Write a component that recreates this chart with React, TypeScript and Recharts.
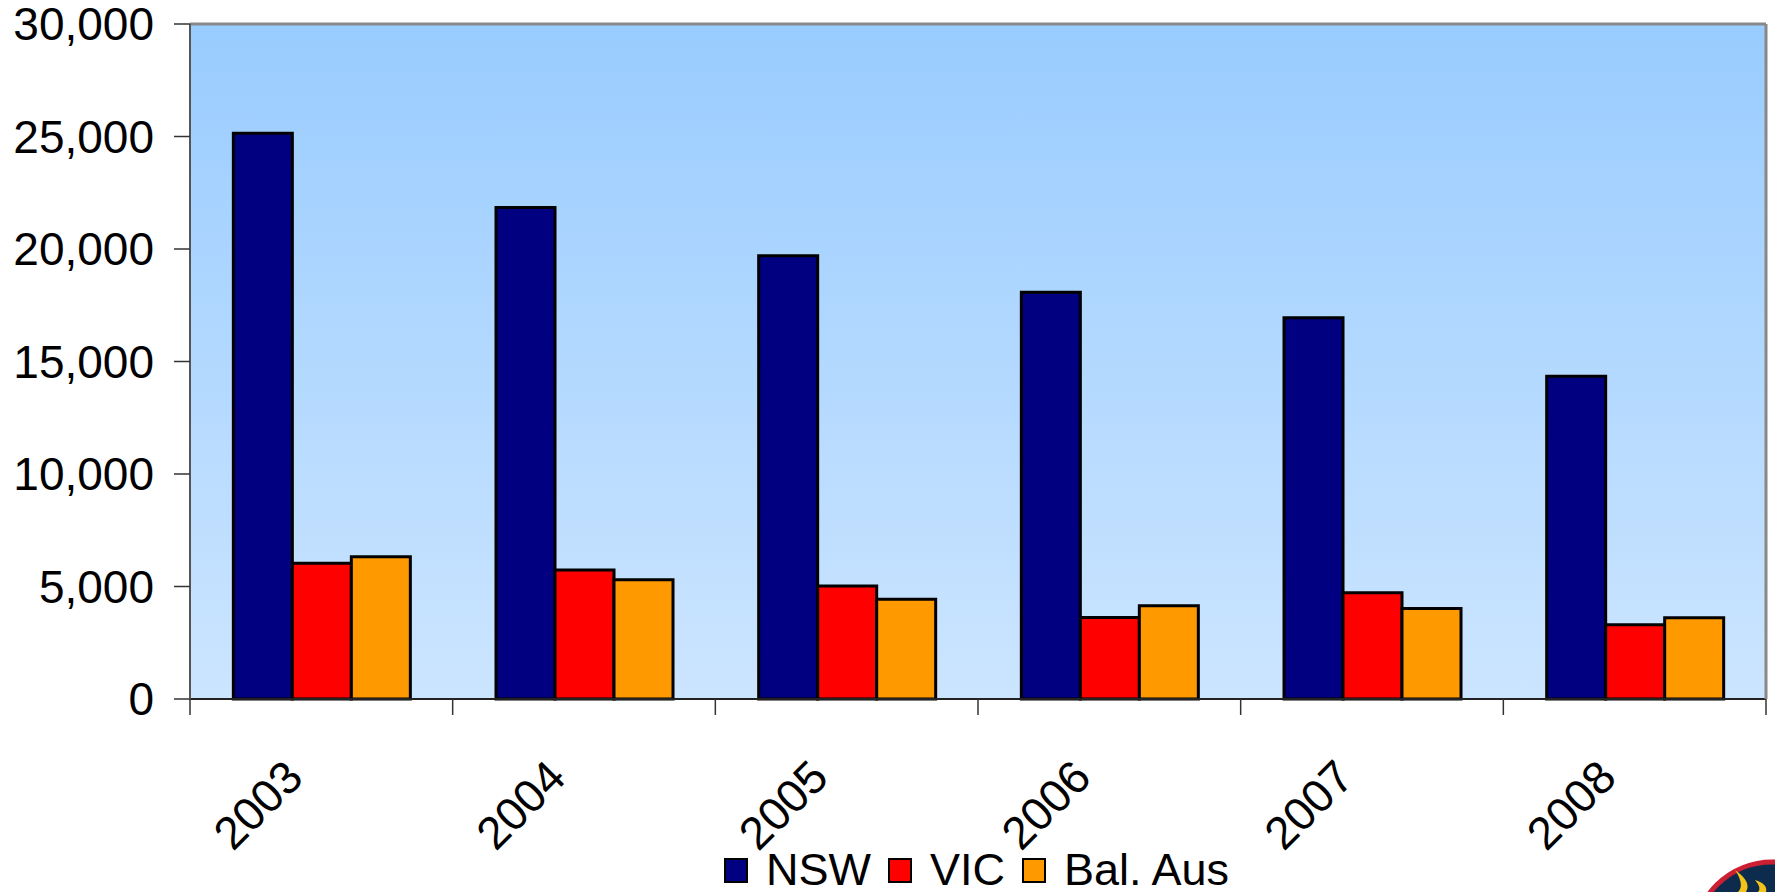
import React from 'react';
import { BarChart, Bar, XAxis, YAxis, CartesianGrid, Legend, ReferenceLine } from 'recharts';

const years = ['2003', '2004', '2005', '2006', '2007', '2008'];
const nsw = [25150, 21850, 19700, 18080, 16950, 14350];
const vic = [6030, 5730, 5020, 3620, 4720, 3300];
const balAus = [6320, 5300, 4430, 4140, 4020, 3610];
const seriesKeys = ['nsw', 'vic', 'bal'];
const seriesNames = ['NSW', 'VIC', 'Bal. Aus'];
const seriesColors = ['#000080', '#FF0000', '#FF9900'];
const yTicks = [0, 5000, 10000, 15000, 20000, 25000, 30000];

const data = years.map((year, i) => ({ year, nsw: nsw[i], vic: vic[i], bal: balAus[i] }));

const W = 1775;
const H = 892;
const Y_W = 190;
const R_W = 9;
const BAND = (W - Y_W - R_W) / years.length;
const FONT = '"Liberation Sans", Arial, sans-serif';

function XTick(props: any) {
  const { x, y, payload, index } = props;
  const tx = x - 16;
  const ty = y + 65;
  return (
    <g>
      <line x1={x - BAND / 2} x2={x - BAND / 2} y1={y - 16} y2={y} stroke='#333' strokeWidth={1.5} />
      {index === years.length - 1 && (
        <line x1={x + BAND / 2} x2={x + BAND / 2} y1={y - 16} y2={y} stroke='#333' strokeWidth={1.5} />
      )}
      <text x={tx} y={ty} transform={`rotate(-45, ${tx}, ${ty})`} textAnchor='end' fontSize={46} fill='#000' fontFamily={FONT}>
        {payload.value}
      </text>
    </g>
  );
}

function LegendContent() {
  return (
    <div style={{ display: 'flex', alignItems: 'center', fontFamily: FONT, fontSize: 45, lineHeight: '38px', color: '#000' }}>
      {seriesNames.map((name, i) => (
        <div key={name} style={{ display: 'flex', alignItems: 'center', marginRight: 17 }}>
          <span style={{ width: 20, height: 21, background: seriesColors[i], border: '2px solid #000', marginRight: 18, display: 'inline-block' }} />
          <span>{name}</span>
        </div>
      ))}
    </div>
  );
}

function Logo() {
  return (
    <svg width={W} height={H} style={{ position: 'absolute', left: 0, top: 0, pointerEvents: 'none' }}>
      <circle cx={1772} cy={940} r={78} fill='#0d2b4d' stroke='#cc1f33' strokeWidth={5} />
      <path d='M1735 870 Q1745 885 1738 892 L1746 892 Q1752 882 1735 870 Z' fill='#f2c318' />
      <path d='M1755 880 Q1762 888 1758 892 L1766 892 Q1768 884 1755 880 Z' fill='#f2c318' />
    </svg>
  );
}

export default function App(): React.JSX.Element {
  return (
    <div style={{ position: 'absolute', left: 0, top: 0, width: W, height: H, background: '#fff', overflow: 'hidden' }}>
      <BarChart
        width={W}
        height={H}
        data={data}
        margin={{ top: 24, right: 0, left: 0, bottom: 0 }}
        barGap={0}
        barCategoryGap='16.5%'
      >
        <defs>
          <linearGradient id='plotBg' x1='0' y1='0' x2='0' y2='1'>
            <stop offset='0%' stopColor='#99CCFF' />
            <stop offset='100%' stopColor='#CCE5FF' />
          </linearGradient>
        </defs>
        <CartesianGrid vertical={false} fill='url(#plotBg)' stroke='#1e2c3c' strokeWidth={1.5} fillOpacity={1} />
        <XAxis
          dataKey='year'
          height={H - 699}
          tickSize={16}
          tickMargin={0}
          tickLine={false}
          tick={<XTick />}
          interval={0}
          axisLine={{ stroke: '#222', strokeWidth: 2 }}
        />
        <YAxis
          yAxisId='left'
          width={Y_W}
          domain={[0, 30000]}
          ticks={yTicks}
          interval={0}
          tickSize={16}
          tickMargin={20}
          tickLine={{ stroke: '#333', strokeWidth: 1.5 }}
          axisLine={{ stroke: '#555', strokeWidth: 2 }}
          tick={{ fontSize: 46, fill: '#000', fontFamily: FONT }}
          tickFormatter={(v: number) => v.toLocaleString('en-US')}
        />
        <YAxis
          yAxisId='right'
          orientation='right'
          width={R_W}
          domain={[0, 30000]}
          tick={false}
          tickLine={false}
          axisLine={{ stroke: '#888', strokeWidth: 3 }}
        />
        <ReferenceLine yAxisId='left' y={30000} stroke='#888' strokeWidth={3} />
        <Legend
          verticalAlign='middle'
          align='center'
          layout='horizontal'
          content={<LegendContent />}
          wrapperStyle={{ position: 'absolute', top: 851, left: 724, width: 1000, height: 38 }}
        />
        {seriesKeys.map((key, i) => (
          <Bar
            key={key}
            yAxisId='left'
            dataKey={key}
            name={seriesNames[i]}
            fill={seriesColors[i]}
            stroke='#000'
            strokeWidth={3}
            isAnimationActive={false}
          />
        ))}
      </BarChart>
      <Logo />
    </div>
  );
}
